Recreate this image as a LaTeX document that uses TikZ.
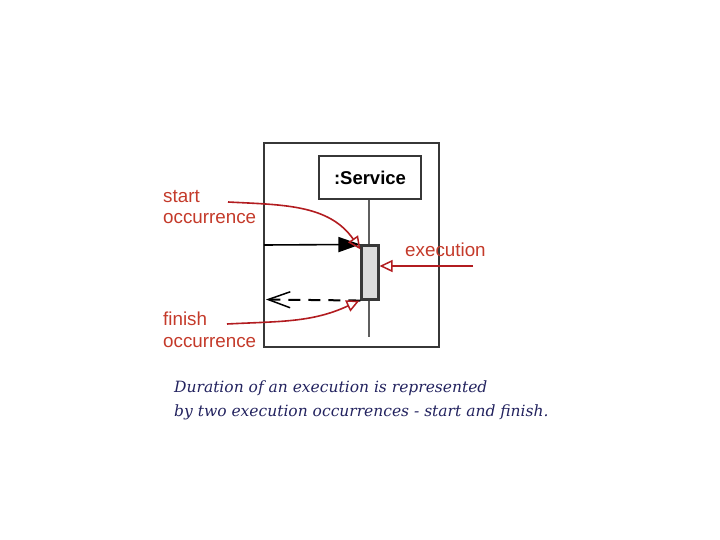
\documentclass[tikz,border=0pt]{standalone}
\usepackage{fontspec}
\setmainfont{DejaVu Serif}
\setsansfont{Liberation Sans}
\usepackage{xcolor}
\usepackage{tikz}
\usetikzlibrary{arrows.meta,positioning}

\definecolor{notered}{RGB}{196,58,42}
\definecolor{arrowred}{RGB}{178,28,32}
\definecolor{framegray}{RGB}{55,55,55}
\definecolor{captionblue}{RGB}{35,35,95}

\begin{document}
\begin{tikzpicture}[
    x=1pt, y=-1pt,
    every node/.style={font=\sffamily},
    lbl/.style={
        text=notered, align=left, anchor=north west, inner sep=0pt,
        font=\sffamily\fontsize{18.8}{21.5}\selectfont
    },
    pointer/.style={
        draw=arrowred, line width=1.6pt,
        -{Triangle[open, length=13pt, width=12pt, line width=1.5pt]}
    },
    msg/.style={draw=black, line width=1.6pt}
]
\useasboundingbox (0,0) rectangle (720,540);

% --- Frame and lifeline
\draw[framegray, line width=2pt] (264,143) rectangle (439,347);
\node[draw=framegray, line width=2pt, minimum width=102pt, minimum height=43pt,
      inner sep=0pt, font=\sffamily\bfseries\fontsize{18.5}{20}\selectfont]
  (service) at (370,177.5) {:Service};
\coordinate (lifeend) at (369,337);
\draw[framegray!80, line width=2.2pt] (service.south -| lifeend) -- (lifeend);

% execution bar
\node[draw=framegray, fill=gray!28, line width=2.1pt, minimum width=17pt,
      minimum height=54pt, inner sep=0pt] (exec) at (370,272.5) {};

% --- Messages
\coordinate (gatein) at (264,245);
\coordinate (gateout) at (266,299.5);
\draw[msg, -{Triangle[length=22pt, width=15pt]}] (gatein) -- (exec.north west);
\draw[msg, line width=2pt, dash pattern=on 12pt off 8pt,
      -{Straight Barb[length=22pt, width=16pt, line width=1.5pt]}]
  (exec.south west) -- (gateout);

% --- Notes
\node[lbl] (startlbl) at (163,190) {start\\occurrence};
\node[lbl] (finishlbl) at (163,312) {finish\\occurrence};
\node[lbl, anchor=base west] (execlbl) at (405,256) {execution};

\coordinate (startfrom) at (228,202);
\coordinate (finishfrom) at (227,324);
\coordinate (execfrom) at (473,266);
\draw[pointer] (startfrom) to[out=-3, in=125] ([yshift=-5pt]exec.north west);
\draw[pointer] (finishfrom) to[out=3, in=205] ([xshift=-1pt]exec.south west);
\draw[pointer] (execfrom) -- (exec.east |- execfrom);

% --- Caption
\node[anchor=north west, align=left, inner sep=0pt, text=captionblue,
      font=\rmfamily\itshape\fontsize{15.5}{24}\selectfont]
  (caption) at (174,381)
  {Duration of an execution is represented\\by two execution occurrences - start and finish.};
\end{tikzpicture}
\end{document}
